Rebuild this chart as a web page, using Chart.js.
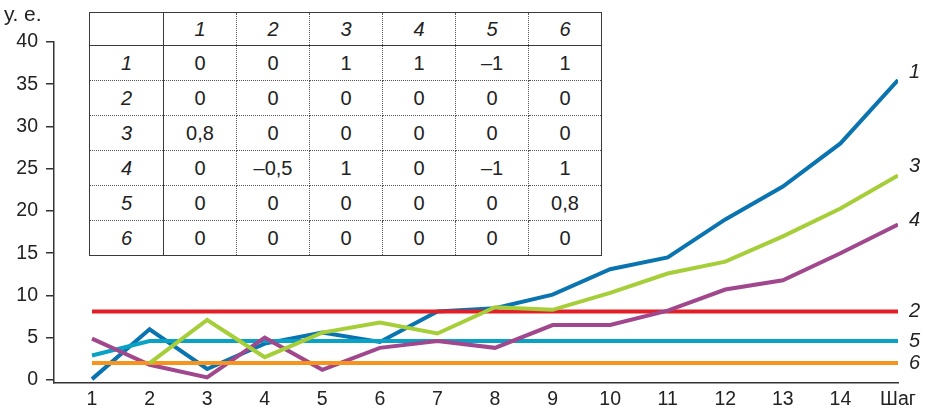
<!DOCTYPE html>
<html>
<head>
<meta charset="utf-8">
<script src="https://cdn.jsdelivr.net/npm/chart.js@4/dist/chart.umd.min.js"></script>
<style>
  html, body { margin: 0; padding: 0; background: #fff; }
  #wrap { position: relative; width: 925px; height: 410px; }
  #chart { position: absolute; left: 0; top: 0; }
  #matrix {
    position: absolute; left: 89px; top: 12px;
    border-collapse: collapse; background: #fff;
    font-family: "Liberation Sans", Arial, sans-serif; font-size: 20px; color: #222;
    border: 1.5px solid #3a3a3a;
  }
  #matrix td { width: 72px; height: 34px; padding: 0; text-align: center; vertical-align: middle;
    border-right: 1px dotted #555; border-bottom: 1px dotted #555; }
  #matrix tr:first-child td { height: 32px; border-bottom: 1.5px solid #3a3a3a; font-style: italic; }
  #matrix td:first-child { width: 73px; border-right: 1.5px solid #3a3a3a; font-style: italic; }
  #matrix tr:last-child td { border-bottom: none; }
  #matrix td:last-child { border-right: none; }
</style>
</head>
<body>
<div id="wrap">
  <canvas id="chart" width="925" height="410"></canvas>
  <table id="matrix"></table>
</div>
<script>
// шаги и подписи оси X
const steps = [1, 2, 3, 4, 5, 6, 7, 8, 9, 10, 11, 12, 13, 14, 15];
const xLabels = ['1', '2', '3', '4', '5', '6', '7', '8', '9', '10', '11', '12', '13', '14', 'Шаг'];
const yTicks = [0, 5, 10, 15, 20, 25, 30, 35, 40];

// значения рядов по шагам
const series1 = [0.1, 6.0, 1.3, 4.3, 5.6, 4.5, 8.1, 8.5, 10.1, 13.1, 14.5, 19.0, 22.9, 28.0, 35.5];
const series2 = [8.1, 8.1, 8.1, 8.1, 8.1, 8.1, 8.1, 8.1, 8.1, 8.1, 8.1, 8.1, 8.1, 8.1, 8.1];
const series3 = [null, 2.0, 7.1, 2.7, 5.6, 6.8, 5.5, 8.6, 8.3, 10.3, 12.6, 14.0, 17.0, 20.3, 24.2];
const series4 = [4.9, 1.8, 0.3, 5.0, 1.2, 3.8, 4.6, 3.8, 6.5, 6.5, 8.2, 10.7, 11.8, 15.0, 18.4];
const series5 = [2.9, 4.6, 4.6, 4.6, 4.6, 4.6, 4.6, 4.6, 4.6, 4.6, 4.6, 4.6, 4.6, 4.6, 4.6];
const series6 = [2.0, 2.0, 2.0, 2.0, 2.0, 2.0, 2.0, 2.0, 2.0, 2.0, 2.0, 2.0, 2.0, 2.0, 2.0];

// матрица связей
const matrixHeader = ['', '1', '2', '3', '4', '5', '6'];
const matrixRows = ['1', '2', '3', '4', '5', '6'];
const matrixValues = [
  ['0', '0', '1', '1', '–1', '1'],
  ['0', '0', '0', '0', '0', '0'],
  ['0,8', '0', '0', '0', '0', '0'],
  ['0', '–0,5', '1', '0', '–1', '1'],
  ['0', '0', '0', '0', '0', '0,8'],
  ['0', '0', '0', '0', '0', '0'],
];

const table = document.getElementById('matrix');
let html = '<tr>' + matrixHeader.map(h => '<td>' + h + '</td>').join('') + '</tr>';
matrixRows.forEach((r, i) => {
  html += '<tr><td>' + r + '</td>' + matrixValues[i].map(v => '<td>' + v + '</td>').join('') + '</tr>';
});
table.innerHTML = html;

const pts = arr => arr.map((v, i) => ({ x: steps[i], y: v }));

const FONT = '"Liberation Sans", Arial, sans-serif';
Chart.defaults.font.family = FONT;
Chart.defaults.font.size = 19.5;
Chart.defaults.color = '#222';

// подписи рядов справа и единицы оси
const endLabels = {
  id: 'endLabels',
  afterDatasetsDraw(chart) {
    const ctx = chart.ctx;
    ctx.save();
    ctx.font = 'italic 20px ' + FONT;
    ctx.fillStyle = '#222';
    ctx.textBaseline = 'middle';
    chart.data.datasets.forEach((ds, i) => {
      const meta = chart.getDatasetMeta(i);
      const last = meta.data[meta.data.length - 1];
      ctx.fillText(ds.label, last.x + 11, last.y + (ds.labelDy || 0));
    });
    ctx.font = '21px ' + FONT;
    ctx.fillText('у. е.', 4, 15);
    ctx.restore();
  }
};

const line = (label, data, color, labelDy) => ({
  label, data: pts(data), borderColor: color, backgroundColor: color,
  borderWidth: 4, pointRadius: 0, tension: 0, fill: false, labelDy,
});

new Chart(document.getElementById('chart'), {
  type: 'line',
  data: {
    datasets: [
      line('3', series3, '#a6ce39', -9),
      line('6', series6, '#f7941d', 0),
      line('4', series4, '#a0478d', -4),
      line('5', series5, '#0aa2c4', 0),
      line('2', series2, '#e21f26', 0),
      line('1', series1, '#0a74b0', -8),
    ],
  },
  options: {
    responsive: false,
    animation: false,
    events: [],
    layout: { padding: { left: 0, top: 42, right: 27, bottom: 0 } },
    plugins: { legend: { display: false }, tooltip: { enabled: false } },
    scales: {
      x: {
        type: 'linear',
        min: 0.34,
        max: 15,
        afterBuildTicks: s => { s.ticks = steps.map(v => ({ value: v })); },
        afterFit: s => { s.height = 27.5; },
        ticks: { padding: 5, maxRotation: 0, autoSkip: false,
          callback: v => xLabels[steps.indexOf(v)] },
        grid: { drawOnChartArea: false, drawTicks: false },
        border: { display: true, color: '#333', width: 1.5 },
      },
      y: {
        min: -0.3,
        max: 40,
        afterBuildTicks: s => { s.ticks = yTicks.map(v => ({ value: v })); },
        afterFit: s => { s.width = 54; },
        ticks: { padding: 8 },
        grid: { drawOnChartArea: false, drawTicks: true, tickLength: 8, color: '#333', lineWidth: 1.5 },
        border: { display: true, color: '#333', width: 1.5 },
      },
    },
  },
  plugins: [endLabels],
});
</script>
</body>
</html>
